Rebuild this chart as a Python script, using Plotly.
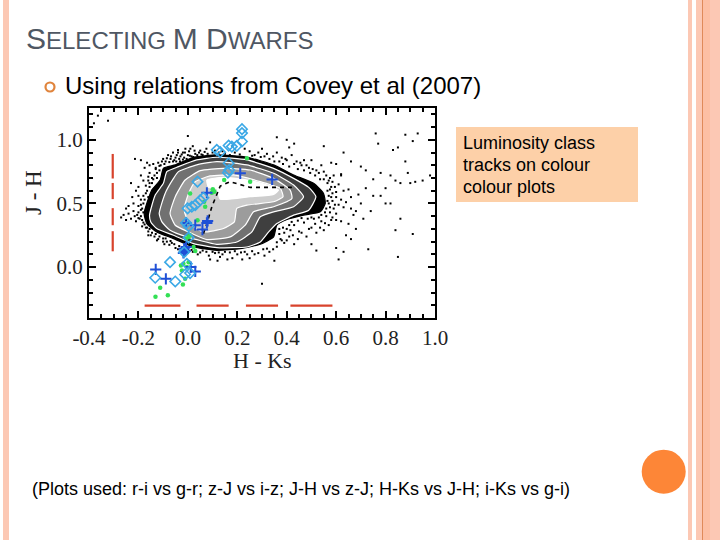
import plotly.graph_objects as go

W, H = 720, 540
X_RANGE = [-0.4, 1.0]
Y_RANGE = [-0.4, 1.25]

# Density contour levels, outermost to innermost: (H-Ks, J-H)
level1_hk = [-.177,-.146,-.112,-.099,-.051,.023,.117,.239,.347,.428,.509,.549,.556,.536,.468,.401,.360,.347,.293,.212,.117,.023,-.058,-.126,-.166]
level1_jh = [.421,.605,.684,.776,.803,.863,.882,.863,.803,.724,.658,.579,.5,.434,.408,.374,.329,.237,.179,.145,.132,.158,.224,.276,.342]
level2_hk = [-.155,-.132,-.099,-.085,-.038,.036,.117,.239,.347,.428,.489,.518,.489,.428,.360,.327,.293,.239,.117,.023,-.058,-.126,-.150]
level2_jh = [.408,.566,.658,.750,.789,.842,.863,.842,.776,.697,.626,.553,.447,.408,.342,.276,.197,.158,.153,.184,.250,.303,.355]
level3_hk = [-.116,-.092,-.058,-.038,.036,.117,.239,.347,.428,.468,.428,.347,.293,.259,.198,.117,-.004,-.072,-.105]
level3_jh = [.421,.579,.697,.750,.803,.829,.803,.737,.645,.553,.474,.434,.395,.276,.197,.179,.237,.289,.355]
level4_hk = [-.072,-.051,-.011,.050,.144,.252,.347,.414,.421,.347,.266,.232,.171,.077,.003,-.051]
level4_jh = [.421,.553,.684,.758,.776,.763,.697,.605,.539,.474,.434,.329,.237,.216,.276,.329]
level5_hk = [-.015,.003,.030,.090,.185,.293,.374,.385,.347,.239,.198,.188,.144,.063,.016,-.007]
level5_jh = [.461,.579,.671,.716,.724,.671,.618,.553,.513,.487,.461,.355,.303,.276,.329,.395]
level6_hk = [.077,.144,.239,.320,.367,.347,.252,.131,.117,.084]
level6_jh = [.684,.705,.684,.645,.605,.571,.553,.534,.618,.626]
level_fills = ["#000000", "#3f3f3f", "#717171", "#9c9c9c", "#cdcdcd", "#ffffff"]

# Sparse field stars outside the contours
field_stars = [
 (-.364,1.19),(-.323,1.15),(-.38,1.13),(0.0,1.03),(-.214,.85),(-.19,.84),(-.165,.82),(-.14,.81),(-.13,.78),(-.155,.74),(-.16,.71),
 (-.12,.82),(-.11,.80),(-.10,.85),(-.09,.83),(-.08,.88),(-.07,.85),(-.06,.90),(-.055,.84),(-.045,.88),(-.04,.92),(-.035,.85),(-.03,.87),
 (-.02,.90),(-.015,.86),(-.01,.93),(0.0,.88),(.005,.91),(.015,.87),(.02,.95),(.03,.89),(.045,.90),(.06,.88),(.075,.93),(.09,.98),(.10,.90),
 (.14,.91),(.17,.88),(.18,.95),(.25,.91),(.27,.88),(.30,.93),(.31,.87),(.33,.85),(.36,.90),(.38,.86),(.40,.84),(.42,.88),(.44,.83),(.46,.80),
 (.47,.84),(.49,.78),(.50,.84),(.52,.76),(.54,.80),(.56,.72),(.55,.69),(.58,.82),(.43,.97),(.41,.94),(.60,.81),(.62,.73),
 (-.23,.66),(-.20,.63),(-.18,.68),(-.17,.64),(-.155,.66),(-.14,.69),(-.20,.56),(-.19,.53),(-.17,.58),(-.16,.55),(-.22,.50),(-.20,.48),(-.18,.50),
 (-.25,.46),(-.24,.42),(-.22,.44),(-.205,.41),(-.19,.45),(-.18,.43),(-.27,.39),(-.25,.37),(-.23,.38),(-.21,.36),(-.195,.38),(-.18,.35),(-.17,.31),
 (-.16,.28),(-.15,.25),(-.135,.24),(-.12,.22),(-.10,.20),(-.09,.225),(-.075,.175),(-.065,.19),(-.05,.15),(-.035,.165),
 (.02,.12),(.04,.10),(.06,.13),(.085,.09),(.11,.11),(.13,.08),(.15,.12),(.18,.07),(.20,.10),(.23,.12),(.25,.07),(.27,.10),(.33,.12),(.35,.05),
 (.36,.16),(.38,.21),(.37,.26),(.39,.19),(.41,.24),(.43,.18),(.40,.30),(.43,.33),(.45,.28),(.47,.35),(.48,.24),(.50,.31),(.52,.27),(.54,.36),
 (.51,.38),(.56,.40),(.58,.37),(.57,.33),(.55,.29),(.60,.42),(.59,.46),(.61,.49),(.57,.50),(.58,.55),(.60,.59),(.62,.53),(.58,.63),(.61,.65),
 (.57,.68),(.59,.72),(.62,.72),(.63,.60),(.65,.61),(.63,.47),(.64,.51),(.66,.46),(.67,.41),(.62,.36),(.65,.34),(.68,.30),(.64,.25),(.66,.22),
 (.50,.18),(.52,.13),(.60,.15),(.63,.12),
 (.70,.79),(.72,.76),(.75,.69),(.78,.74),(.80,.62),(.82,.72),(.84,.68),(.86,.66),(.88,.83),(.89,.74),(.90,.66),(.92,.67),(.85,.94),(.91,.99),(.88,1.04),
 (.77,.97),(.76,1.05),(.83,.92),(.93,1.05),(.95,.68),(.72,.62),(.75,.56),(.78,.56),(.80,.50),(.82,.50),(.74,.44),(.71,.38),(.86,.38),(.84,.29),(.91,.26),
 (.68,.44),(.70,.50),(.66,.55),(.69,.57),(.98,.72),(.73,.14),(.85,.08),(.30,-.13),(.61,.06),(.40,1.0),(.55,.95),(.66,.83),(.63,.90),(.36,1.02),
]
# The dense halo hugging the outer contour
halo_stars = [
 (-.115,.795),(-.105,.83),(-.095,.81),(-.085,.855),(-.075,.825),(-.068,.87),(-.06,.83),(-.05,.86),(-.047,.83),(-.04,.90),(-.032,.83),(-.025,.885),
 (-.02,.845),(-.012,.90),(-.005,.85),(.008,.875),(.01,.93),(.022,.865),(.027,.915),(.038,.88),(.05,.915),(.055,.885),(.068,.905),(.08,.89),(.11,.915),
 (.125,.90),(.15,.89),(.19,.90),(.21,.885),(.23,.93),(.26,.875),(.285,.90),(.295,.865),(.32,.89),(.345,.87),(.35,.83),(.37,.83),(.385,.81),(.395,.85),
 (.41,.79),(.43,.81),(.445,.77),(.455,.82),(.47,.76),(.48,.80),(.495,.74),(.505,.77),(.515,.72),(.53,.74),(.535,.69),(.55,.75),(.565,.66),(.575,.70),
 (.585,.67),(.575,.61),(.595,.63),(.565,.60),(.585,.58),(.57,.56),(.60,.55),(.565,.52),(.585,.52),(.575,.47),(.56,.46),(.595,.49),(.555,.43),(.575,.43),
 (.54,.41),(.53,.39),(.50,.39),(.485,.38),(.46,.385),(.445,.365),(.42,.355),(.41,.33),(.385,.31),(.37,.30),(.39,.27),(.415,.29),(.425,.25),(.375,.22),
 (.36,.195),(.40,.21),(.445,.22),(.46,.27),(.49,.30),(.515,.34),(.535,.31),(.555,.345),(.585,.39),(.60,.37),
 (-.185,.37),(-.19,.40),(-.20,.43),(-.215,.40),(-.20,.385),(-.185,.46),(-.19,.49),(-.175,.53),(-.165,.60),(-.18,.56),(-.155,.63),(-.16,.68),(-.145,.66),
 (-.135,.72),(-.145,.70),(-.125,.74),(-.125,.70),(-.115,.76),(-.13,.77),(-.155,.80),(-.175,.78),(-.19,.72),(-.21,.60),(-.225,.55),(-.24,.48),(-.26,.41),
 (-.175,.335),(-.165,.31),(-.185,.32),(-.155,.30),(-.145,.27),(-.16,.25),(-.13,.26),(-.115,.24),(-.125,.21),(-.10,.225),(-.085,.20),(-.095,.18),(-.07,.205),
 (-.055,.18),(-.04,.14),(-.02,.15),(0.0,.14),(.015,.135),(.03,.125),(.05,.115),(.075,.12),(.10,.12),(.125,.115),(.14,.10),(.17,.115),(.19,.125),(.215,.115),
 (.24,.10),(.26,.125),(.285,.11),(.305,.14),(.32,.145),(.345,.14),(.31,.09),(.16,.06),(.09,.06),(.12,.05),(.22,.06),
]
field_hk = [p[0] for p in field_stars + halo_stars]
field_jh = [p[1] for p in field_stars + halo_stars]

# Isochrone track (dashed black)
track_hk = [.063,.077,.097,.131,.171,.252,.320,.421]
track_jh = [.263,.342,.474,.637,.671,.626,.626,.626]

# Colour tracks
diamond_hk = [.219,.219,.219,.198,.178,.165,.117,.131,.165,.167,.162,.039,.063,.050,.030,.016,-.001,-.007,.003,-.072,-.132,-.051,-.011,.009,-.004,-.015,.003]
diamond_jh = [1.084,1.053,.987,.953,.947,.955,.921,.903,.816,.763,.742,.671,.545,.526,.487,.474,.461,.347,.321,.039,-.084,-.113,-.058,-.047,.026,.118,.232]
plus_hk = [.212,.341,.077,-.007,.030,.059,.080,.077,-.015,-.011,-.007,-.018,.012,.030,-.130,-.089]
plus_jh = [.737,.689,.584,.347,.329,.295,.363,.347,.145,.126,.158,.111,0,-.034,-.018,-.092]
green_hk = [.239,.147,.252,.009,.101,.107,.097,.066,.070,.039,.003,-.007,.009,.023,.030,-.028,-.018,.003,-.004,-.024,-.011,-.020,-.112,-.081,-.131]
green_jh = [.855,.684,.671,.579,.611,.592,.584,.513,.474,.368,.237,.224,.25,.158,.126,.013,.026,.039,0,-.026,-.092,-.137,-.163,-.221,-.234]

# Red limit dashes
limit_x_hk = [-.175,-.03,None,.035,.165,None,.235,.365,None,.415,.585]
limit_x_jh = [-.303,-.303,None,-.303,-.303,None,-.303,-.303,None,-.303,-.303]
limit_y_hk = [-.304,-.304,None,-.304,-.304,None,-.304,-.304,None,-.304,-.304]
limit_y_jh = [.889,.696,None,.661,.534,None,.463,.329,None,.282,.124]

x_tick_vals = [-0.4, -0.2, 0.0, 0.2, 0.4, 0.6, 0.8, 1.0]
x_tick_text = ["-0.4", "-0.2", "0.0", "0.2", "0.4", "0.6", "0.8", "1.0"]
y_tick_vals = [0.0, 0.5, 1.0]
y_tick_text = ["0.0", "0.5", "1.0"]

SERIF = "Liberation Serif"
SANS = "Liberation Sans"
PINK = "#fcc8b4"

def px(v):
    return v / W

def py(v):
    return 1 - v / H

fig = go.Figure()

levels = [(level1_hk, level1_jh), (level2_hk, level2_jh), (level3_hk, level3_jh),
          (level4_hk, level4_jh), (level5_hk, level5_jh), (level6_hk, level6_jh)]
for i, ((lx, ly), col) in enumerate(zip(levels, level_fills)):
    fig.add_trace(go.Scatter(
        x=lx + lx[:1], y=ly + ly[:1], mode="lines", fill="toself", fillcolor=col,
        line=dict(color="#000000" if i == 0 else "#ffffff", width=1.2, shape="spline", smoothing=0.5),
        hoverinfo="skip", showlegend=False))

fig.add_trace(go.Scatter(x=field_hk, y=field_jh, mode="markers",
                         marker=dict(symbol="square", size=2, color="#000000", line=dict(width=0)),
                         showlegend=False))
fig.add_trace(go.Scatter(x=track_hk, y=track_jh, mode="lines",
                         line=dict(color="#000000", width=1.6, dash="4px,4px"), showlegend=False))
fig.add_trace(go.Scatter(x=limit_x_hk, y=limit_x_jh, mode="lines",
                         line=dict(color="#d8432c", width=2.2), showlegend=False))
fig.add_trace(go.Scatter(x=limit_y_hk, y=limit_y_jh, mode="lines",
                         line=dict(color="#d8432c", width=2.2), showlegend=False))
fig.add_trace(go.Scatter(x=green_hk, y=green_jh, mode="markers",
                         marker=dict(symbol="circle", size=4.5, color="#33e055"), showlegend=False))
fig.add_trace(go.Scatter(x=plus_hk, y=plus_jh, mode="markers",
                         marker=dict(symbol="cross-thin", size=8, line=dict(color="#1f4fd6", width=2)),
                         showlegend=False))
fig.add_trace(go.Scatter(x=diamond_hk, y=diamond_jh, mode="markers",
                         marker=dict(symbol="diamond-open", size=8, color="#3aa8e6", line=dict(width=1.6)),
                         showlegend=False))

axis_common = dict(showgrid=False, zeroline=False, showline=True, linecolor="#000000", linewidth=2,
                   mirror="ticks", ticks="inside", tickcolor="#000000", tickwidth=2,
                   tickfont=dict(family=SERIF, size=21, color="#222222"))

fig.update_xaxes(range=X_RANGE, domain=[px(89), px(435)], tickvals=x_tick_vals, ticktext=x_tick_text,
                 ticklen=7, minor=dict(dtick=0.05, ticks="inside", ticklen=4, tickcolor="#000000", tickwidth=1.5),
                 **axis_common)
fig.update_yaxes(range=Y_RANGE, domain=[py(318), py(108)], tickvals=y_tick_vals, ticktext=y_tick_text,
                 ticklen=7, minor=dict(dtick=0.1, ticks="inside", ticklen=4, tickcolor="#000000", tickwidth=1.5),
                 **axis_common)

shapes = []
def rect(x0, y0, x1, y1, color):
    shapes.append(dict(type="rect", xref="paper", yref="paper", x0=px(x0), x1=px(x1), y0=py(y1), y1=py(y0),
                       fillcolor=color, line=dict(width=0), layer="below"))

rect(3, 0, 9, 540, PINK)
rect(688, 0, 692, 540, PINK)
rect(696, 0, 720, 540, PINK)
rect(702, 0, 703, 540, "#e08a5a")
rect(703, 0, 710, 540, "#fdbfa4")
rect(456, 127, 638, 202, "#fdd0a8")
shapes.append(dict(type="circle", xref="paper", yref="paper", x0=px(641.7), x1=px(685.7), y0=py(493.7), y1=py(449.7),
                   fillcolor="#fd8637", line=dict(width=0), layer="below"))
shapes.append(dict(type="circle", xref="paper", yref="paper", x0=px(45.5), x1=px(54.5), y0=py(91.5), y1=py(82.5),
                   fillcolor="#ffffff", line=dict(color="#e0843c", width=2.2), layer="below"))

def label(x, y, text, size, family=SANS, color="#000000", anchor="left", angle=0):
    return dict(xref="paper", yref="paper", x=px(x), y=py(y), text=text, showarrow=False, xanchor=anchor,
                yanchor="middle", textangle=angle, align="left",
                font=dict(family=family, size=size, color=color))

small = 'font-size:24px'
big = 'font-size:30px'
title = (f'<span style="{big}">S</span><span style="{small}">ELECTING </span>'
         f'<span style="{big}">M D</span><span style="{small}">WARFS</span>')
annotations = [
    label(24, 39, title, 30, color="#4f5763"),
    label(63, 85, "Using relations from Covey et al (2007)", 24),
    label(461, 143, "Luminosity class", 18),
    label(461, 165, "tracks on colour", 18),
    label(461, 187, "colour plots", 18),
    label(30, 489, "(Plots used: r-i vs g-r; z-J vs i-z; J-H vs z-J; H-Ks vs J-H; i-Ks vs g-i)", 18),
    label(262, 360, "H - Ks", 22, family=SERIF, color="#222222", anchor="center"),
    label(33, 193, "J - H", 23, family=SERIF, color="#222222", anchor="center", angle=-90),
]

fig.update_layout(width=W, height=H, autosize=False, margin=dict(l=0, r=0, t=0, b=0, pad=0, autoexpand=False),
                  paper_bgcolor="#ffffff", plot_bgcolor="#ffffff", showlegend=False,
                  shapes=shapes, annotations=annotations)

fig.write_html("out.html", config={"displayModeBar": False},
               post_script="document.body.style.margin='0';document.documentElement.style.overflow='hidden';")
